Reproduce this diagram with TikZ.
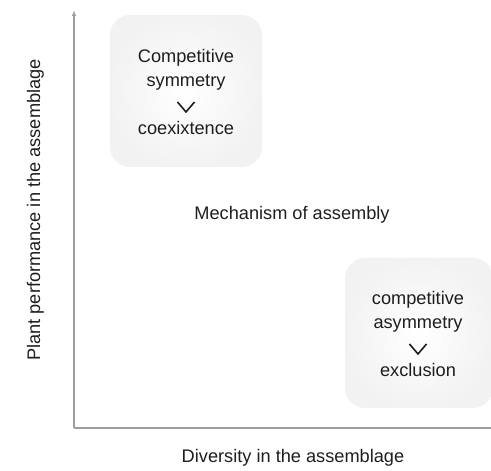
\documentclass[tikz,border=0pt]{standalone}
\usepackage{fontspec}
\setmainfont{Liberation Sans}
\usepackage{tikz}
\usetikzlibrary{arrows.meta}
\usetikzlibrary{positioning}

\definecolor{axisgray}{HTML}{9E9E9E}
\definecolor{ink}{HTML}{1E1E1E}

\begin{document}
\begin{tikzpicture}[x=1pt, y=1pt,
    axis/.style={draw=axisgray, line width=1.3pt, -{Latex[length=6pt, width=4.5pt]}},
    panel/.style={rounded corners=20pt, inner color=white, outer color=black!5, minimum width=152pt, minimum height=152pt},
    words/.style={text=ink, font=\fontsize{18.2}{24}\selectfont, align=center, inner sep=0pt},
    chevron/.style={draw=ink, line width=1.6pt}]

      \useasboundingbox (0, 0) rectangle (491, 471);

      % the two axes
      \coordinate (origin) at (74, 43);
      \coordinate (ytop) at (74, 461);
      \coordinate (xend) at (497, 43);
      \draw [axis] (origin) -- (ytop);
      \draw [axis] (origin) -- (xend);

      % upper left panel
      \node [panel] (sympanel) at (186, 380) {};
      \node [words, anchor=base] (symtop) at ([yshift=28pt]sympanel.center) {Competitive};
      \node [words, anchor=base] (symmid) at ([yshift=4pt]sympanel.center) {symmetry};
      \node [words, anchor=base] (symlow) at ([yshift=-44pt]sympanel.center) {coexixtence};
      \draw [chevron] ([xshift=-8.5pt, yshift=-11pt]sympanel.center) -- ++(8.5, -10) -- ++(8.5, 10);

      % lower right panel
      \node [panel, minimum width=148pt, minimum height=150pt] (asympanel) at (419, 138) {};
      \node [words, anchor=base] (asymtop) at ([xshift=-1pt, yshift=28pt]asympanel.center) {competitive};
      \node [words, anchor=base] (asymmid) at ([xshift=-1pt, yshift=4pt]asympanel.center) {asymmetry};
      \node [words, anchor=base] (asymlow) at ([xshift=-1pt, yshift=-44pt]asympanel.center) {exclusion};
      \draw [chevron] ([xshift=-9.5pt, yshift=-11pt]asympanel.center) -- ++(8.5, -10) -- ++(8.5, 10);

      % labels
      \node [words, anchor=base] (mechanism) at (292, 251) {Mechanism of assembly};
      \node [words, anchor=base] (xlabel) at (293, 8) {Diversity in the assemblage};
      \node [words, rotate=90, anchor=base] (ylabel) at (40, 261) {Plant performance in the assemblage};

    \end{tikzpicture}
\end{document}
